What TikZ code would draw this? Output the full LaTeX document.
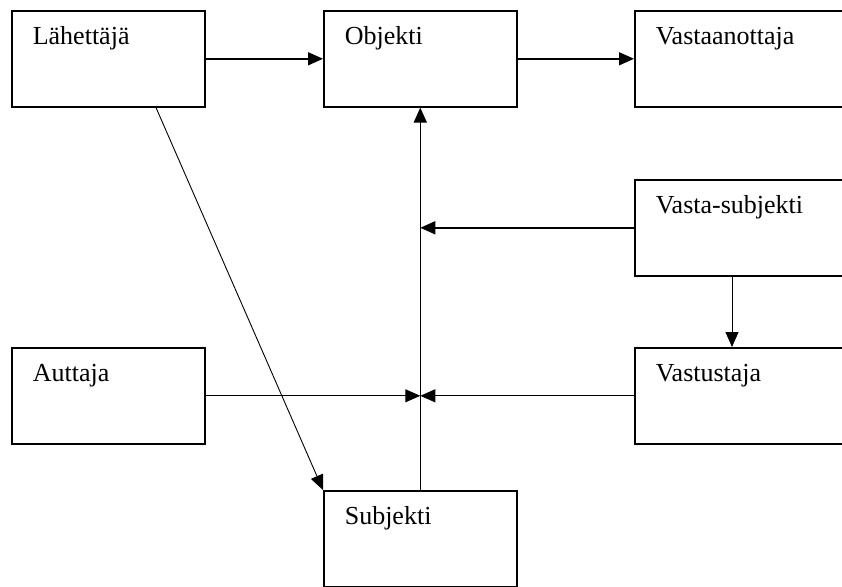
\documentclass[tikz,border=0pt]{standalone}
\usepackage{fontspec}
\setmainfont{Liberation Serif}
\usetikzlibrary{arrows.meta}
\usetikzlibrary{positioning,calc}

\begin{document}
\begin{tikzpicture}[x=1pt,y=-1pt]
		\useasboundingbox (0,0) rectangle (842,586);
		\clip (0,0) rectangle (842,586);
		\begin{scope}[every node/.style={draw,line width=1.6pt,rectangle,anchor=north west,
				inner xsep=21pt,inner ysep=0pt,text height=34pt,text depth=62pt,
				font=\rmfamily\fontsize{26}{30}\selectfont}]
			\node[text width=151pt] (lah) at (11,10) {Lähettäjä};
			\node[text width=151pt] (obj) at (323,10) {Objekti};
			\node[text width=200pt] (vast) at (634,10) {Vastaanottaja};
			\node[text width=200pt] (vs) at (634,179) {Vasta-subjekti};
			\node[text width=151pt] (aut) at (11,347) {Auttaja};
			\node[text width=200pt] (vst) at (634,347) {Vastustaja};
			\node[text width=151pt] (subj) at (323,490) {Subjekti};
		\end{scope}
		\coordinate (m1) at (obj.south |- vs.west);
		\coordinate (m2) at (obj.south |- aut.east);
		\begin{scope}[>={Triangle[length=15pt,width=13pt]}]
			\draw[->,line width=1.6pt] (lah) -- (obj);
			\draw[->,line width=1.6pt] (obj) -- (vast);
			\draw[->,line width=1.6pt] (subj) -- (obj);
			\draw[->,line width=1.6pt] (vs) -- (m1);
			\draw[->,line width=0.9pt] ([xshift=98pt]vs.south west) -- ([xshift=98pt]vst.north west);
			\draw[->,line width=0.9pt] (aut) -- (m2);
			\draw[->,line width=0.9pt] (vst) -- (m2);
			\draw[->,line width=0.9pt] ([xshift=145pt]lah.south west) -- (subj.north west);
		\end{scope}
	\end{tikzpicture}
\end{document}
